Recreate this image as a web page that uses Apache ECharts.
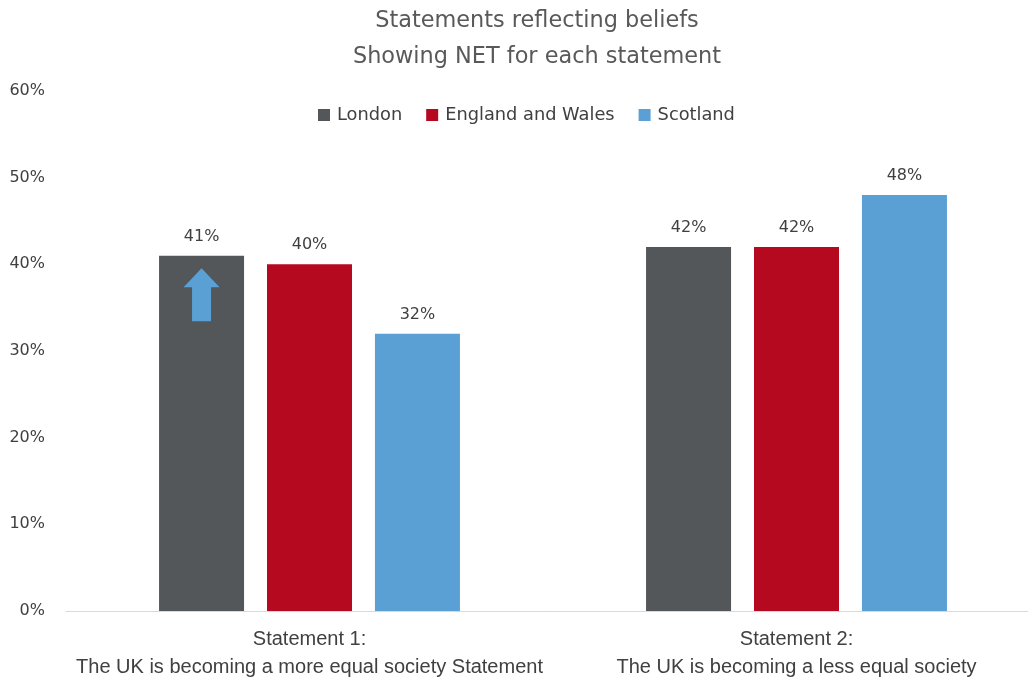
<!DOCTYPE html>
<html>
<head>
<meta charset="utf-8">
<title>Statements reflecting beliefs</title>
<script src="https://cdn.jsdelivr.net/npm/echarts@6/dist/echarts.min.js"></script>
<style>
  html, body { margin: 0; padding: 0; background: #ffffff; }
  #chart { width: 1028px; height: 681px; }
</style>
</head>
<body>
<div id="chart"></div>
<script>
// Survey results: NET agreement with each statement, by region
const categories = [
  'Statement 1:\nThe UK is becoming a more equal society Statement',
  'Statement 2:\nThe UK is becoming a less equal society'
];
const seriesNames = ['London', 'England and Wales', 'Scotland'];
const london = [41, 42];
const englandWales = [40, 42];
const scotland = [32, 48];
const yTicks = [0, 10, 20, 30, 40, 50, 60];

const colors = ['#53575a', '#b5091f', '#5aa0d4'];
const textColor = '#404040';
const labelFont = 'DejaVu Sans';

// Upward arrow drawn inside the first London bar
const arrowPath = 'path://M18,0 L36,19 L27.5,19 L27.5,53 L8.5,53 L8.5,19 L0,19 Z';

function barSeries(name, values, idx) {
  return {
    name: name,
    type: 'bar',
    data: values,
    barWidth: 85,
    barGap: '27%',
    itemStyle: { color: colors[idx] },
    label: {
      show: true,
      position: 'top',
      distance: 11,
      formatter: p => p.value + '%',
      color: textColor,
      fontFamily: labelFont,
      fontSize: 16
    }
  };
}

const series = [
  barSeries(seriesNames[0], london, 0),
  barSeries(seriesNames[1], englandWales, 1),
  barSeries(seriesNames[2], scotland, 2)
];
series[0].markPoint = {
  symbol: arrowPath,
  symbolSize: [36, 53],
  silent: true,
  label: { show: false },
  itemStyle: { color: colors[2] },
  data: [{ coord: [0, 36.5] }]
};

const chart = echarts.init(document.getElementById('chart'), null, { renderer: 'canvas' });
chart.setOption({
  animation: false,
  backgroundColor: '#ffffff',
  color: colors,
  title: {
    text: 'Statements reflecting beliefs\nShowing NET for each statement',
    left: 532,
    textAlign: 'center',
    top: -2,
    textStyle: {
      fontFamily: labelFont,
      fontSize: 22.4,
      fontWeight: 'normal',
      color: '#595959',
      lineHeight: 36
    }
  },
  legend: {
    data: seriesNames,
    top: 101,
    left: 313,
    itemWidth: 12,
    itemHeight: 12,
    itemGap: 24,
    icon: 'rect',
    textStyle: {
      fontFamily: labelFont,
      fontSize: 17.8,
      color: textColor,
      padding: [0, 0, 0, 2]
    }
  },
  grid: {
    left: 66,
    width: 974,
    top: 91,
    bottom: 70,
    outerBoundsMode: 'none',
    containLabel: false
  },
  xAxis: {
    type: 'category',
    data: categories,
    axisLine: { lineStyle: { color: '#d9d9d9', width: 1 } },
    axisTick: { show: false },
    axisLabel: {
      interval: 0,
      margin: 14,
      fontFamily: 'Liberation Sans Narrow, Liberation Sans, sans-serif',
      fontSize: 20,
      lineHeight: 28,
      color: textColor
    }
  },
  yAxis: {
    type: 'value',
    min: yTicks[0],
    max: yTicks[yTicks.length - 1],
    interval: 10,
    splitLine: { show: false },
    axisLine: { show: false },
    axisTick: { show: false },
    axisLabel: {
      margin: 21,
      formatter: v => v + '%',
      fontFamily: labelFont,
      fontSize: 16,
      color: textColor
    }
  },
  series: series
});
</script>
</body>
</html>
